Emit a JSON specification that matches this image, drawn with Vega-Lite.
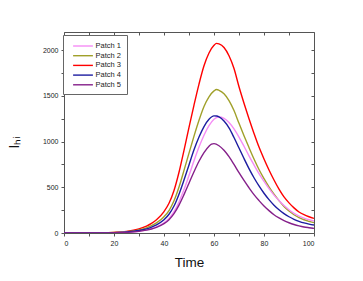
{
  "$schema": "https://vega.github.io/schema/vega-lite/v6.json",
  "autosize": "none",
  "width": 250,
  "height": 201,
  "padding": {"left": 64, "top": 32, "right": 49, "bottom": 48},
  "background": "white",
  "config": {
    "font": "Liberation Sans",
    "view": {"stroke": null}
  },
  "datasets": {
    "curves": [
      {"s":"Patch 3","t":0,"v":0},{"s":"Patch 3","t":10,"v":0},{"s":"Patch 3","t":15,"v":2},{"s":"Patch 3","t":20,"v":7},{"s":"Patch 3","t":25,"v":18},{"s":"Patch 3","t":30,"v":45},{"s":"Patch 3","t":33,"v":75},{"s":"Patch 3","t":35,"v":105},{"s":"Patch 3","t":37,"v":145},{"s":"Patch 3","t":40,"v":235},{"s":"Patch 3","t":42,"v":325},{"s":"Patch 3","t":44,"v":465},{"s":"Patch 3","t":46,"v":665},{"s":"Patch 3","t":48,"v":905},{"s":"Patch 3","t":50,"v":1155},{"s":"Patch 3","t":52,"v":1400},{"s":"Patch 3","t":54,"v":1630},{"s":"Patch 3","t":56,"v":1830},{"s":"Patch 3","t":58,"v":1970},{"s":"Patch 3","t":60,"v":2055},{"s":"Patch 3","t":61,"v":2075},{"s":"Patch 3","t":62,"v":2070},{"s":"Patch 3","t":64,"v":2030},{"s":"Patch 3","t":66,"v":1940},{"s":"Patch 3","t":68,"v":1800},{"s":"Patch 3","t":70,"v":1600},{"s":"Patch 3","t":72,"v":1420},{"s":"Patch 3","t":74,"v":1250},{"s":"Patch 3","t":76,"v":1090},{"s":"Patch 3","t":78,"v":940},{"s":"Patch 3","t":80,"v":810},{"s":"Patch 3","t":82,"v":690},{"s":"Patch 3","t":84,"v":580},{"s":"Patch 3","t":86,"v":480},{"s":"Patch 3","t":88,"v":395},{"s":"Patch 3","t":90,"v":330},{"s":"Patch 3","t":92,"v":275},{"s":"Patch 3","t":94,"v":230},{"s":"Patch 3","t":96,"v":200},{"s":"Patch 3","t":98,"v":178},{"s":"Patch 3","t":100,"v":160},

      {"s":"Patch 2","t":0,"v":0},{"s":"Patch 2","t":10,"v":0},{"s":"Patch 2","t":15,"v":1},{"s":"Patch 2","t":20,"v":5},{"s":"Patch 2","t":25,"v":14},{"s":"Patch 2","t":30,"v":34},{"s":"Patch 2","t":33,"v":57},{"s":"Patch 2","t":35,"v":80},{"s":"Patch 2","t":37,"v":110},{"s":"Patch 2","t":40,"v":178},{"s":"Patch 2","t":42,"v":246},{"s":"Patch 2","t":44,"v":352},{"s":"Patch 2","t":46,"v":503},{"s":"Patch 2","t":48,"v":685},{"s":"Patch 2","t":50,"v":874},{"s":"Patch 2","t":52,"v":1060},{"s":"Patch 2","t":54,"v":1234},{"s":"Patch 2","t":56,"v":1385},{"s":"Patch 2","t":58,"v":1490},{"s":"Patch 2","t":60,"v":1555},{"s":"Patch 2","t":61,"v":1570},{"s":"Patch 2","t":62,"v":1562},{"s":"Patch 2","t":64,"v":1525},{"s":"Patch 2","t":66,"v":1450},{"s":"Patch 2","t":68,"v":1340},{"s":"Patch 2","t":70,"v":1200},{"s":"Patch 2","t":72,"v":1065},{"s":"Patch 2","t":74,"v":935},{"s":"Patch 2","t":76,"v":810},{"s":"Patch 2","t":78,"v":695},{"s":"Patch 2","t":80,"v":595},{"s":"Patch 2","t":82,"v":505},{"s":"Patch 2","t":84,"v":425},{"s":"Patch 2","t":86,"v":355},{"s":"Patch 2","t":88,"v":290},{"s":"Patch 2","t":90,"v":240},{"s":"Patch 2","t":92,"v":200},{"s":"Patch 2","t":94,"v":168},{"s":"Patch 2","t":96,"v":145},{"s":"Patch 2","t":98,"v":128},{"s":"Patch 2","t":100,"v":113},

      {"s":"Patch 1","t":0,"v":0},{"s":"Patch 1","t":10,"v":0},{"s":"Patch 1","t":15,"v":1},{"s":"Patch 1","t":20,"v":3},{"s":"Patch 1","t":25,"v":8},{"s":"Patch 1","t":30,"v":19},{"s":"Patch 1","t":33,"v":34},{"s":"Patch 1","t":35,"v":48},{"s":"Patch 1","t":37,"v":68},{"s":"Patch 1","t":40,"v":112},{"s":"Patch 1","t":42,"v":160},{"s":"Patch 1","t":44,"v":233},{"s":"Patch 1","t":46,"v":340},{"s":"Patch 1","t":48,"v":475},{"s":"Patch 1","t":50,"v":630},{"s":"Patch 1","t":52,"v":790},{"s":"Patch 1","t":54,"v":940},{"s":"Patch 1","t":56,"v":1070},{"s":"Patch 1","t":58,"v":1175},{"s":"Patch 1","t":60,"v":1245},{"s":"Patch 1","t":61,"v":1263},{"s":"Patch 1","t":62,"v":1270},{"s":"Patch 1","t":64,"v":1255},{"s":"Patch 1","t":66,"v":1210},{"s":"Patch 1","t":68,"v":1140},{"s":"Patch 1","t":70,"v":1050},{"s":"Patch 1","t":72,"v":950},{"s":"Patch 1","t":74,"v":845},{"s":"Patch 1","t":76,"v":745},{"s":"Patch 1","t":78,"v":650},{"s":"Patch 1","t":80,"v":565},{"s":"Patch 1","t":82,"v":485},{"s":"Patch 1","t":84,"v":415},{"s":"Patch 1","t":86,"v":355},{"s":"Patch 1","t":88,"v":300},{"s":"Patch 1","t":90,"v":255},{"s":"Patch 1","t":92,"v":215},{"s":"Patch 1","t":94,"v":185},{"s":"Patch 1","t":96,"v":162},{"s":"Patch 1","t":98,"v":145},{"s":"Patch 1","t":100,"v":131},

      {"s":"Patch 4","t":0,"v":0},{"s":"Patch 4","t":10,"v":0},{"s":"Patch 4","t":15,"v":1},{"s":"Patch 4","t":20,"v":4},{"s":"Patch 4","t":25,"v":11},{"s":"Patch 4","t":30,"v":27},{"s":"Patch 4","t":33,"v":46},{"s":"Patch 4","t":35,"v":65},{"s":"Patch 4","t":37,"v":90},{"s":"Patch 4","t":40,"v":145},{"s":"Patch 4","t":42,"v":205},{"s":"Patch 4","t":44,"v":295},{"s":"Patch 4","t":46,"v":425},{"s":"Patch 4","t":48,"v":580},{"s":"Patch 4","t":50,"v":745},{"s":"Patch 4","t":52,"v":910},{"s":"Patch 4","t":54,"v":1050},{"s":"Patch 4","t":56,"v":1165},{"s":"Patch 4","t":58,"v":1245},{"s":"Patch 4","t":60,"v":1282},{"s":"Patch 4","t":61,"v":1280},{"s":"Patch 4","t":62,"v":1270},{"s":"Patch 4","t":64,"v":1225},{"s":"Patch 4","t":66,"v":1150},{"s":"Patch 4","t":68,"v":1045},{"s":"Patch 4","t":70,"v":930},{"s":"Patch 4","t":72,"v":815},{"s":"Patch 4","t":74,"v":705},{"s":"Patch 4","t":76,"v":605},{"s":"Patch 4","t":78,"v":515},{"s":"Patch 4","t":80,"v":435},{"s":"Patch 4","t":82,"v":365},{"s":"Patch 4","t":84,"v":305},{"s":"Patch 4","t":86,"v":255},{"s":"Patch 4","t":88,"v":212},{"s":"Patch 4","t":90,"v":178},{"s":"Patch 4","t":92,"v":150},{"s":"Patch 4","t":94,"v":128},{"s":"Patch 4","t":96,"v":110},{"s":"Patch 4","t":98,"v":97},{"s":"Patch 4","t":100,"v":87},

      {"s":"Patch 5","t":0,"v":0},{"s":"Patch 5","t":10,"v":0},{"s":"Patch 5","t":15,"v":1},{"s":"Patch 5","t":20,"v":3},{"s":"Patch 5","t":25,"v":7},{"s":"Patch 5","t":30,"v":18},{"s":"Patch 5","t":33,"v":31},{"s":"Patch 5","t":35,"v":44},{"s":"Patch 5","t":37,"v":62},{"s":"Patch 5","t":40,"v":102},{"s":"Patch 5","t":42,"v":146},{"s":"Patch 5","t":44,"v":212},{"s":"Patch 5","t":46,"v":305},{"s":"Patch 5","t":48,"v":420},{"s":"Patch 5","t":50,"v":545},{"s":"Patch 5","t":52,"v":670},{"s":"Patch 5","t":54,"v":785},{"s":"Patch 5","t":56,"v":880},{"s":"Patch 5","t":58,"v":950},{"s":"Patch 5","t":59,"v":972},{"s":"Patch 5","t":60,"v":978},{"s":"Patch 5","t":62,"v":955},{"s":"Patch 5","t":64,"v":905},{"s":"Patch 5","t":66,"v":835},{"s":"Patch 5","t":68,"v":750},{"s":"Patch 5","t":70,"v":660},{"s":"Patch 5","t":72,"v":575},{"s":"Patch 5","t":74,"v":495},{"s":"Patch 5","t":76,"v":420},{"s":"Patch 5","t":78,"v":355},{"s":"Patch 5","t":80,"v":295},{"s":"Patch 5","t":82,"v":245},{"s":"Patch 5","t":84,"v":200},{"s":"Patch 5","t":86,"v":165},{"s":"Patch 5","t":88,"v":135},{"s":"Patch 5","t":90,"v":112},{"s":"Patch 5","t":92,"v":93},{"s":"Patch 5","t":94,"v":78},{"s":"Patch 5","t":96,"v":66},{"s":"Patch 5","t":98,"v":58},{"s":"Patch 5","t":100,"v":51}
    ]
  },
  "data": {"name": "curves"},
  "layer": [
    {
      "mark": {"type": "line", "interpolate": "monotone", "strokeWidth": 1.4, "clip": true},
      "encoding": {
        "x": {
          "field": "t", "type": "quantitative",
          "scale": {"domain": [0, 100], "nice": false, "zero": false},
          "axis": {
            "orient": "bottom",
            "title": "Time",
            "titleFont": "Liberation Sans", "titleFontSize": 13.5, "titleFontWeight": "normal", "titleColor": "#111",
            "titlePadding": 9,
            "values": [0, 10, 20, 30, 40, 50, 60, 70, 80, 90, 100],
            "labelExpr": "datum.value % 20 === 0 ? datum.label : ''",
            "labelFont": "Liberation Sans", "labelFontSize": 7, "labelColor": "#222",
            "labelPadding": 3, "tickSize": 3, "tickColor": "#555", "tickWidth": 1,
            "domainColor": "#555", "domainWidth": 1, "grid": false
          }
        },
        "y": {
          "field": "v", "type": "quantitative",
          "scale": {"domain": [0, 2200], "nice": false},
          "axis": {
            "orient": "left",
            "title": "Iₕᵢ",
            "titleFont": "Liberation Sans", "titleFontSize": 14, "titleFontWeight": "normal", "titleColor": "#111",
            "titleAngle": -90, "titleX": -46, "titleY": 110, "titleBaseline": "alphabetic", "titleAlign": "center",
            "values": [0, 250, 500, 750, 1000, 1250, 1500, 1750, 2000],
            "labelExpr": "datum.value % 500 === 0 ? datum.label : ''",
            "format": "d",
            "labelFont": "Liberation Sans", "labelFontSize": 7, "labelColor": "#222",
            "labelPadding": 3, "tickSize": 3, "tickColor": "#555", "tickWidth": 1,
            "domainColor": "#555", "domainWidth": 1, "grid": false
          }
        },
        "color": {
          "field": "s", "type": "nominal",
          "scale": {
            "domain": ["Patch 1", "Patch 2", "Patch 3", "Patch 4", "Patch 5"],
            "range": ["#f58cf5", "#a0a02a", "#ff0000", "#1c1ca0", "#85208a"]
          },
          "legend": {
            "orient": "none", "legendX": -1, "legendY": 3,
            "title": null,
            "symbolType": "M-2.2,0L2.2,0",
            "symbolSize": 81,
            "symbolStrokeWidth": 1.4,
            "symbolOffset": 9,
            "labelOffset": 7,
            "labelFont": "Liberation Sans", "labelFontSize": 7.5, "labelColor": "#222",
            "rowPadding": 0.7,
            "padding": 5.5,
            "strokeColor": "#666",
            "fillColor": "white"
          }
        }
      }
    },
    {
      "mark": {"type": "line", "interpolate": "monotone", "strokeOpacity": 0},
      "encoding": {
        "x": {
          "field": "t", "type": "quantitative",
          "axis": {
            "orient": "top", "title": null, "labels": false,
            "values": [0, 10, 20, 30, 40, 50, 60, 70, 80, 90, 100],
            "tickSize": -3, "tickColor": "#555", "domainColor": "#555", "grid": false
          }
        },
        "y": {
          "field": "v", "type": "quantitative",
          "axis": {
            "orient": "right", "title": null, "labels": false,
            "values": [0, 250, 500, 750, 1000, 1250, 1500, 1750, 2000],
            "tickSize": -3, "tickColor": "#555", "domainColor": "#555", "grid": false
          }
        },
        "detail": {"field": "s", "type": "nominal"}
      }
    }
  ],
  "resolve": {"axis": {"x": "independent", "y": "independent"}}
}
